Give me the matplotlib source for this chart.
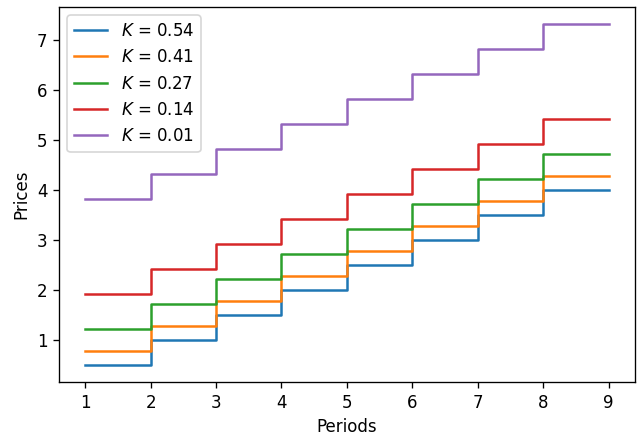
import matplotlib
matplotlib.use("Agg")
import matplotlib.pyplot as plt

periods = [1, 2, 3, 4, 5, 6, 7, 8, 9]
k_values = ["0.54", "0.41", "0.27", "0.14", "0.01"]

prices_054 = [0.50, 1.00, 1.50, 2.00, 2.50, 3.00, 3.50, 4.00, 4.00]
prices_041 = [0.77, 1.27, 1.77, 2.27, 2.77, 3.27, 3.77, 4.27, 4.27]
prices_027 = [1.21, 1.71, 2.21, 2.71, 3.21, 3.71, 4.21, 4.71, 4.71]
prices_014 = [1.92, 2.42, 2.92, 3.42, 3.92, 4.42, 4.92, 5.42, 5.42]
prices_001 = [3.81, 4.31, 4.81, 5.31, 5.81, 6.31, 6.81, 7.31, 7.31]

all_prices = [prices_054, prices_041, prices_027, prices_014, prices_001]

# reference looks rendered at a ~1.2x scale, so use dpi 120 on a smaller figure
dpi = 120
fig = plt.figure(figsize=(637 / dpi, 436 / dpi), dpi=dpi)
ax = fig.add_axes([0.0926, 0.124, 0.904, 0.86])

for k, prices in zip(k_values, all_prices):
    ax.step(periods, prices, where="post", label="$K$ = " + k)

ax.set_xticks(periods)
ax.set_xlabel("Periods")
ax.set_ylabel("Prices")
ax.legend(loc="upper left")

fig.savefig("out.png", dpi=dpi)
